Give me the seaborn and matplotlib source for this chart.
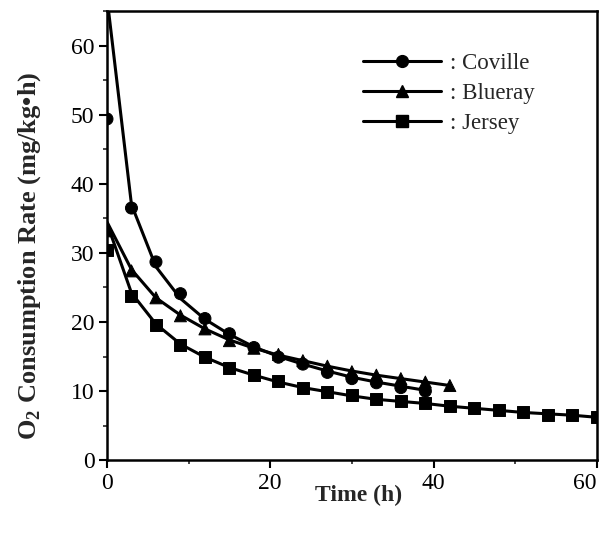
import pandas as pd
import matplotlib
matplotlib.use('Agg')
import matplotlib.pyplot as plt
from matplotlib.lines import Line2D
from matplotlib.ticker import MultipleLocator
import seaborn as sns

# measured points
t_cov = [0, 3, 6, 9, 12, 15, 18, 21, 24, 27, 30, 33, 36, 39]
o2_cov = [49.4, 36.5, 28.7, 24.1, 20.5, 18.3, 16.3, 14.9, 13.9, 12.7, 11.8, 11.2, 10.5, 10.0]
t_blu = [0, 3, 6, 9, 12, 15, 18, 21, 24, 27, 30, 33, 36, 39, 42]
o2_blu = [33.2, 27.4, 23.5, 20.9, 19.0, 17.3, 16.2, 15.3, 14.4, 13.6, 12.8, 12.3, 11.8, 11.3, 10.8]
t_jer = [0, 3, 6, 9, 12, 15, 18, 21, 24, 27, 30, 33, 36, 39, 42, 45, 48, 51, 54, 57, 60]
o2_jer = [30.4, 23.7, 19.6, 16.7, 14.9, 13.4, 12.3, 11.4, 10.5, 9.8, 9.4, 8.8, 8.5, 8.2,
          7.8, 7.5, 7.2, 6.9, 6.6, 6.5, 6.3]

# fitted curves
fit_cov = [67.0, 37.0, 28.0, 23.4, 20.4, 18.2, 16.4, 15.0, 13.9, 12.9, 12.0, 11.3, 10.7, 10.1]
fit_blu = [34.5, 27.6, 23.5, 21.0, 19.0, 17.4, 16.2, 15.2, 14.4, 13.6, 12.9, 12.3, 11.8, 11.3, 10.8]
fit_jer = [34.3, 24.2, 19.7, 16.8, 14.9, 13.4, 12.3, 11.3, 10.5, 9.9, 9.3, 8.8, 8.5, 8.2,
           7.8, 7.5, 7.2, 6.9, 6.7, 6.5, 6.2]

names = ['Coville', 'Blueray', 'Jersey']
markers = {'Coville': 'o', 'Blueray': '^', 'Jersey': 's'}

pts = pd.concat([
    pd.DataFrame({'time': t_cov, 'rate': o2_cov, 'cultivar': 'Coville'}),
    pd.DataFrame({'time': t_blu, 'rate': o2_blu, 'cultivar': 'Blueray'}),
    pd.DataFrame({'time': t_jer, 'rate': o2_jer, 'cultivar': 'Jersey'}),
])
fits = pd.concat([
    pd.DataFrame({'time': t_cov, 'rate': fit_cov, 'cultivar': 'Coville'}),
    pd.DataFrame({'time': t_blu, 'rate': fit_blu, 'cultivar': 'Blueray'}),
    pd.DataFrame({'time': t_jer, 'rate': fit_jer, 'cultivar': 'Jersey'}),
])

sns.set_style('ticks')
plt.rcParams['font.family'] = ['Liberation Serif', 'DejaVu Serif']
plt.rcParams['mathtext.fontset'] = 'custom'
plt.rcParams['mathtext.rm'] = 'Liberation Serif:bold'
plt.rcParams['mathtext.bf'] = 'Liberation Serif:bold'

fig = plt.figure(figsize=(6.01, 5.35), dpi=100)
ax = fig.add_axes([0.178, 0.140, 0.815, 0.839])

pal = {n: 'black' for n in names}
sns.lineplot(data=fits, x='time', y='rate', hue='cultivar', palette=pal,
             linewidth=2.2, legend=False, ax=ax, sort=True)
sns.scatterplot(data=pts, x='time', y='rate', hue='cultivar', style='cultivar',
                markers=markers, palette=pal, s=75, edgecolor='black',
                legend=False, ax=ax, zorder=3)

ax.set_xlim(0, 60)
ax.set_ylim(0, 65)
ax.set_xticks([0, 20, 40, 60])
ax.xaxis.set_minor_locator(MultipleLocator(10))
ax.yaxis.set_major_locator(MultipleLocator(10))
ax.yaxis.set_minor_locator(MultipleLocator(5))
ax.tick_params(which='major', length=6, width=1.5, labelsize=17, colors='black', pad=3)
ax.tick_params(which='minor', length=3, width=1.2)
for s in ax.spines.values():
    s.set_linewidth(1.8)
    s.set_color('black')

# keep the "60" inside the figure, as in the original
ax.xaxis.get_major_ticks()[-1].label1.set_horizontalalignment('right')

ax.set_xlabel('Time (h)', fontsize=17, fontweight='bold')
ax.xaxis.set_label_coords(0.513, -0.055)
ax.set_ylabel(r'O$_\mathbf{2}$ Consumption Rate (mg/kg•h)', fontsize=19,
              fontweight='bold')
ax.yaxis.set_label_coords(-0.13, 0.455)

handles = [Line2D([], [], color='black', lw=2.2, marker=markers[n], markersize=8.5)
           for n in names]
ax.legend(handles, [': ' + n for n in names], loc='upper left',
          bbox_to_anchor=(0.522, 0.908), frameon=False, fontsize=16.5,
          handlelength=3.4, handletextpad=0.4, labelspacing=0.4,
          borderpad=0, borderaxespad=0)

fig.savefig('out.png', dpi=100)
